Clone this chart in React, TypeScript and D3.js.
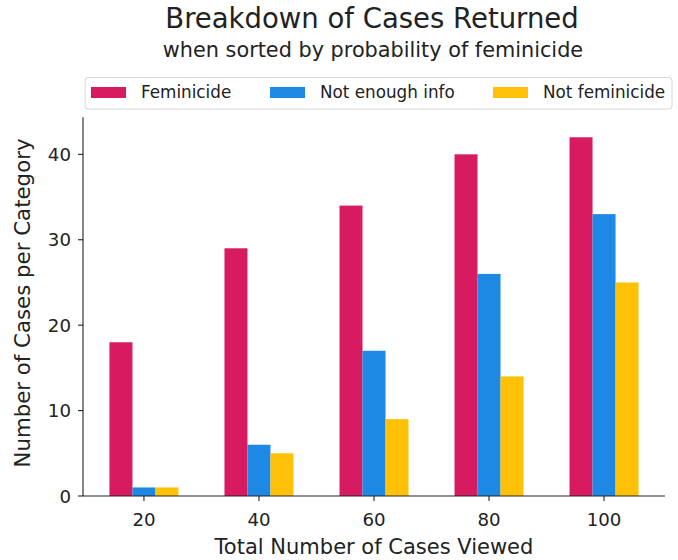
import React from "react";
import * as d3 from "d3";

const totals = [20, 40, 60, 80, 100];
const seriesNames = ["Feminicide", "Not enough info", "Not feminicide"];
const feminicide = [18, 29, 34, 40, 42];
const notEnoughInfo = [1, 6, 17, 26, 33];
const notFeminicide = [1, 5, 9, 14, 25];
const yTicks = [0, 10, 20, 30, 40];
const colors = ["#D81B60", "#1E88E5", "#FFC107"];

const width = 678;
const height = 560;
const marginLeft = 83;
const marginRight = 13;
const marginTop = 119.3;
const marginBottom = 64;
const barWidth = 4;
const font = "DejaVu Sans, sans-serif";

const App = () => {
  const series = [feminicide, notEnoughInfo, notFeminicide];

  const x = d3.scaleLinear()
    .domain([9.4, 110.6])
    .range([marginLeft, width - marginRight]);

  const y = d3.scaleLinear()
    .domain([0, 44.1])
    .range([height - marginBottom, marginTop]);

  const bw = x(barWidth) - x(0);
  const base = y(0);

  // legend item x positions
  const legendX = [91, 270, 493];

  return (
    <svg width={width} height={height} style={{ position: "absolute", left: 0, top: 0, background: "#fff" }}>
      <text x={372} y={28} textAnchor="middle" fontFamily={font} fontSize={27.5} fill="#222">
        Breakdown of Cases Returned
      </text>
      <text x={373} y={56.5} textAnchor="middle" fontFamily={font} fontSize={20.8} fill="#222">
        when sorted by probability of feminicide
      </text>

      {/* bars */}
      {series.map((vals, si) => (
        <g key={seriesNames[si]} fill={colors[si]}>
          {vals.map((v, i) => {
            const cx = totals[i] + (si - 1) * barWidth;
            return (
              <rect
                key={i}
                x={x(cx - barWidth / 2)}
                y={y(v)}
                width={bw}
                height={base - y(v)}
              />
            );
          })}
        </g>
      ))}

      {/* axes */}
      <line x1={marginLeft} x2={marginLeft} y1={marginTop - 2} y2={base} stroke="#222" strokeWidth={1.1} />
      <line x1={marginLeft} x2={width - marginRight} y1={base} y2={base} stroke="#222" strokeWidth={1.1} />

      {yTicks.map(t => (
        <g key={t} transform={`translate(0,${y(t)})`}>
          <line x1={marginLeft - 5} x2={marginLeft} stroke="#222" strokeWidth={1.1} />
          <text x={marginLeft - 12} dy="0.36em" textAnchor="end" fontFamily={font} fontSize={18.2} fill="#222">
            {t}
          </text>
        </g>
      ))}

      {totals.map(t => (
        <g key={t} transform={`translate(${x(t)},${base})`}>
          <line y1={0} y2={5} stroke="#222" strokeWidth={1.1} />
          <text y={30} textAnchor="middle" fontFamily={font} fontSize={18.2} fill="#222">
            {t}
          </text>
        </g>
      ))}

      <text x={374} y={554} textAnchor="middle" fontFamily={font} fontSize={21} fill="#222">
        Total Number of Cases Viewed
      </text>
      <text
        transform={`translate(30,${303}) rotate(-90)`}
        textAnchor="middle"
        fontFamily={font}
        fontSize={21.3}
        fill="#222"
      >
        Number of Cases per Category
      </text>

      {/* legend */}
      <rect x={85} y={77.5} width={587} height={31.5} rx={3} fill="#fff" stroke="#d6d6d6" strokeWidth={1} />
      {seriesNames.map((name, i) => (
        <g key={name}>
          <rect x={legendX[i]} y={87} width={35} height={11} fill={colors[i]} />
          <text x={legendX[i] + 50} y={98} fontFamily={font} fontSize={16.8} fill="#222">
            {name}
          </text>
        </g>
      ))}
    </svg>
  );
};

export default App;
